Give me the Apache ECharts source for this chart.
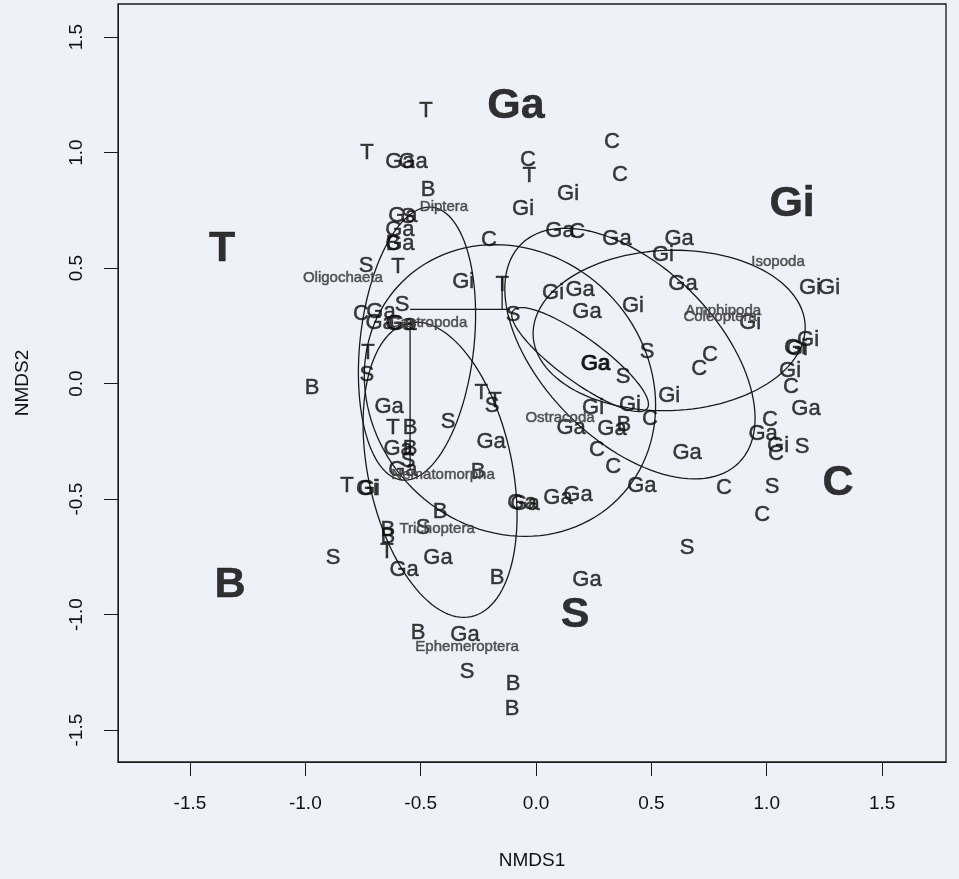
<!DOCTYPE html>
<html><head><meta charset="utf-8">
<script src="https://cdn.jsdelivr.net/npm/echarts@6/dist/echarts.min.js"></script>
<style>html,body{margin:0;padding:0;background:#eff1f8}#c{width:959px;height:879px}</style>
</head><body><div id="c"></div>
<script>
// ---- site scores (NMDS1, NMDS2), one array per group ----
const sitesT = [[-0.477,1.179],[-0.733,0.997],[-0.030,0.897],[-0.598,0.507],[-0.147,0.429],[-0.728,0.134],[-0.238,-0.039],[-0.178,-0.074],[-0.620,-0.191],[-0.819,-0.442],[-0.646,-0.728]];
const sitesGa = [[-0.590,0.958],[-0.533,0.958],[-0.577,0.724],[-0.590,0.663],[-0.590,0.603],[-0.672,0.308],[-0.676,0.264],[-0.590,0.260],[-0.581,0.256],[0.104,0.659],[0.351,0.624],[0.620,0.624],[0.637,0.433],[0.191,0.407],[0.221,0.312],[0.256,0.087],[0.260,0.085],[-0.637,-0.100],[-0.598,-0.282],[-0.577,-0.373],[-0.195,-0.251],[0.152,-0.191],[0.329,-0.195],[0.655,-0.299],[0.459,-0.442],[-0.061,-0.516],[-0.048,-0.520],[0.095,-0.494],[0.182,-0.481],[1.170,-0.108],[0.984,-0.217],[-0.425,-0.754],[-0.572,-0.806],[-0.308,-1.088],[0.221,-0.850]];
const sitesGi = [[0.139,0.819],[-0.056,0.754],[-0.316,0.442],[0.550,0.555],[0.074,0.394],[0.420,0.334],[0.928,0.264],[1.188,0.412],[1.270,0.412],[1.179,0.191],[1.123,0.156],[1.131,0.152],[1.101,0.056],[1.049,-0.269],[0.577,-0.052],[0.247,-0.104],[0.407,-0.091],[-0.733,-0.455],[-0.724,-0.455]];
const sitesC = [[0.329,1.045],[0.364,0.902],[-0.035,0.967],[-0.204,0.620],[0.178,0.655],[-0.759,0.303],[0.754,0.126],[0.707,0.065],[0.494,-0.152],[0.264,-0.286],[0.334,-0.360],[1.105,-0.013],[1.014,-0.156],[1.040,-0.303],[0.815,-0.451],[0.980,-0.568]];
const sitesS = [[-0.555,0.720],[-0.737,0.511],[-0.581,0.342],[-0.100,0.295],[-0.733,0.039],[-0.381,-0.165],[-0.191,-0.095],[0.481,0.139],[0.377,0.030],[1.153,-0.273],[1.023,-0.446],[0.655,-0.711],[-0.490,-0.624],[-0.880,-0.754],[-0.299,-1.248],[-0.555,-0.334]];
const sitesB = [[-0.468,0.837],[-0.620,0.603],[-0.971,-0.017],[-0.546,-0.191],[-0.546,-0.282],[-0.251,-0.381],[0.381,-0.178],[-0.416,-0.555],[-0.642,-0.633],[-0.642,-0.663],[-0.169,-0.841],[-0.511,-1.079],[-0.100,-1.300],[-0.104,-1.409]];

// ---- group labels (large bold) ----
const groupNames = ['Ga','Gi','T','C','S','B'];
const groupX = [-0.087, 1.110, -1.361, 1.309, 0.169, -1.326];
const groupY = [1.201, 0.776, 0.581, -0.429, -1.001, -0.871];

// ---- species scores ----
const speciesNames = ['Diptera','Oligochaeta','Gastropoda','Isopoda','Amphipoda','Coleoptera','Ostracoda','Nematomorpha','Trichoptera','Ephemeroptera'];
const speciesX = [-0.399, -0.837, -0.468, 1.049, 0.811, 0.798, 0.104, -0.403, -0.429, -0.299];
const speciesY = [0.767, 0.459, 0.264, 0.529, 0.316, 0.290, -0.147, -0.394, -0.629, -1.140];

// ---- ellipses: centre, semi-axes, rotation (deg) ----
const ellCX = [-0.516, -0.416, -0.113, 0.407, 0.577, 0.191];
const ellCY = [0.173, -0.373, -0.030, 0.130, 0.230, 0.104];
const ellA  = [0.594, 0.650, 0.663, 0.668, 0.590, 0.360];
const ellB  = [0.247, 0.312, 0.598, 0.377, 0.347, 0.095];
const ellAng = [83.7, 102, -45, -45, 2, -36];

// ---- straight segments ----
const segments = [[[-0.546,0.321],[-0.113,0.321]], [[-0.546,0.264],[-0.546,-0.373]], [[-0.147,0.464],[-0.147,0.321]]];

const ticks = [-1.5,-1.0,-0.5,0.0,0.5,1.0,1.5];
const FONT = 'Liberation Sans';
const INK = '#0d0d0d';
const HIDDEN = {color:'rgba(0,0,0,0)', borderWidth:0};

const series = [];
function siteSeries(name, arr){
  series.push({type:'scatter', name, data:arr, symbolSize:1, itemStyle:HIDDEN, silent:true, z:5,
    label:{show:true, position:'inside', formatter:()=>name, color:INK, fontSize:22, fontFamily:FONT,
      textBorderColor:'#222', textBorderWidth:0.5}});
}
siteSeries('T', sitesT); siteSeries('Ga', sitesGa); siteSeries('Gi', sitesGi);
siteSeries('C', sitesC); siteSeries('S', sitesS); siteSeries('B', sitesB);

series.push({type:'scatter', data: groupNames.map((n,i)=>({name:n, value:[groupX[i],groupY[i]]})), symbolSize:1, itemStyle:HIDDEN, silent:true, z:6,
  label:{show:true, position:'inside', formatter:p=>p.name, color:'#000', fontSize:43, fontWeight:'bold', fontFamily:FONT,
    textBorderColor:'#111', textBorderWidth:0.5}});

series.push({type:'scatter', data: speciesNames.map((n,i)=>({name:n, value:[speciesX[i],speciesY[i]]})), symbolSize:1, itemStyle:HIDDEN, silent:true, z:7,
  label:{show:true, position:'inside', formatter:p=>p.name, color:'#333', fontSize:15, fontFamily:FONT,
    textBorderColor:'#6a6a6a', textBorderWidth:0.7}});

for (let k=0;k<ellCX.length;k++){
  const th = ellAng[k]*Math.PI/180, pts=[];
  for (let i=0;i<=120;i++){
    const t = i/120*2*Math.PI;
    pts.push([ellCX[k] + ellA[k]*Math.cos(t)*Math.cos(th) - ellB[k]*Math.sin(t)*Math.sin(th),
              ellCY[k] + ellA[k]*Math.cos(t)*Math.sin(th) + ellB[k]*Math.sin(t)*Math.cos(th)]);
  }
  series.push({type:'line', data:pts, showSymbol:false, silent:true, z:3, lineStyle:{color:'#1a1a1a', width:1.3}});
}
segments.forEach(s=>series.push({type:'line', data:s, showSymbol:false, silent:true, z:3, lineStyle:{color:'#1a1a1a', width:1.3}}));

const chart = echarts.init(document.getElementById('c'), null, {renderer:'canvas'});
chart.setOption({
  animation:false,
  backgroundColor:'#eff1f8',
  grid:{left:118, right:13, top:4, bottom:117, show:true, borderColor:'#1a1a1a', borderWidth:1.3, backgroundColor:'transparent'},
  xAxis:{type:'value', min:-1.812, max:1.777, splitLine:{show:false},
    axisLine:{show:true, onZero:false, lineStyle:{color:'#1a1a1a'}},
    axisTick:{show:true, customValues:ticks, length:14, lineStyle:{color:'#1a1a1a'}},
    axisLabel:{customValues:ticks, formatter:v=>v.toFixed(1), fontSize:19, color:'#111', margin:32, fontFamily:FONT},
    name:'NMDS1', nameLocation:'middle', nameGap:89, nameTextStyle:{fontSize:19, color:'#111', fontFamily:FONT}},
  yAxis:{type:'value', min:-1.638, max:1.643, splitLine:{show:false},
    axisLine:{show:true, onZero:false, lineStyle:{color:'#1a1a1a'}},
    axisTick:{show:true, customValues:ticks, length:14, lineStyle:{color:'#1a1a1a'}},
    axisLabel:{customValues:ticks, formatter:v=>v.toFixed(1), fontSize:19, color:'#111', margin:32, rotate:90, fontFamily:FONT},
    name:'NMDS2', nameLocation:'middle', nameGap:86, nameRotate:90, nameTextStyle:{fontSize:19, color:'#111', fontFamily:FONT}},
  series
});
</script></body></html>
